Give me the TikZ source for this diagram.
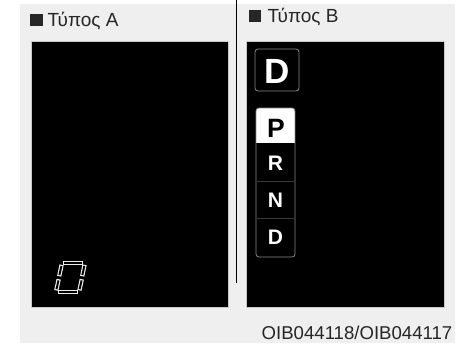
\documentclass[tikz,border=0pt]{standalone}
\usepackage{fontspec}
\setmainfont{Liberation Sans}
\definecolor{bggray}{HTML}{EFEFEF}
\definecolor{framegray}{HTML}{C8C8C8}
\definecolor{boxgray}{HTML}{8A8A8A}
\definecolor{sepgray}{HTML}{3A3A3A}
\definecolor{txtgray}{HTML}{262626}
\begin{document}
\begin{tikzpicture}[x=1pt,y=-1pt,
  title/.style={anchor=base west,inner sep=0pt,text=txtgray,font=\fontsize{19}{22}\selectfont},
  bullet/.style={fill=txtgray,draw=none,inner sep=0pt,minimum size=12.7pt,anchor=north west},
  panel/.style={fill=black,draw=framegray,line width=0.8pt},
  gearbox/.style={draw=boxgray,line width=0.8pt,rounded corners=3pt},
  gearlet/.style={anchor=base,inner sep=0pt,font=\bfseries\fontsize{21}{24}\selectfont,text=white},
  segout/.style={white!92!black,line width=4.3pt},
  segin/.style={black,line width=1.9pt}]
\useasboundingbox (0,0) rectangle (457,343);
\fill[white] (0,0) rectangle (457,343);
\fill[bggray] (20,4) rectangle (455,343);
% panels
\draw[panel] (31,41) rectangle (228,307);
\draw[panel] (246,41) rectangle (444,307);
% divider
\coordinate (divtop) at (236,0);
\coordinate (divbot) at (236,283);
\draw[black,line width=0.9pt] (divtop) -- (divbot);
% titles
\node[bullet] (bA) at (30,13.3) {};
\node[title] (tA) at (47.5,26.5) {Τύπος A};
\node[bullet] (bB) at (248.3,9.5) {};
\node[title] (tB) at (267.5,22.3) {Τύπος B};
\node[anchor=base east,inner sep=0pt,font=\fontsize{18.6}{22}\selectfont,text=txtgray] (code) at (452.5,339.5) {OIB044118/OIB044117};
% Type B: D box
\draw[gearbox] (255,49) rectangle (299,91);
\node[anchor=base,inner sep=0pt,font=\bfseries\fontsize{35}{40}\selectfont,text=white] (dbig) at (277.5,83.5) {D};
% PRND box
\begin{scope}
\clip[rounded corners=3pt] (256,108) rectangle (295,257);
\fill[white] (256,108) rectangle (295,143);
\draw[sepgray,line width=0.6pt] (257,181) -- (294,181);
\draw[sepgray,line width=0.6pt] (257,218.5) -- (294,218.5);
\end{scope}
\draw[gearbox] (256,108) rectangle (295,257);
\node[anchor=base,inner sep=0pt,font=\bfseries\fontsize{26.5}{30}\selectfont,text=black] (gP) at (276,137) {P};
\node[gearlet] (gR) at (275.5,170.5) {R};
\node[gearlet] (gN) at (275.5,207) {N};
\node[gearlet] (gD) at (275.5,244) {D};
% Type A: seven-segment D
\foreach \a/\b in {{63.3,263}/{83.3,263},{84.5,264.8}/{82.2,276.2},{81.8,279.2}/{79.4,290.4},{57.5,292}/{77.6,292},{56.3,290.4}/{58.7,279.2},{59.2,276.2}/{61.6,264.8}}{
  \draw[segout] (\a) -- (\b);
}
\foreach \a/\b in {{64.4,263}/{82.2,263},{84.3,266}/{82.4,275},{81.6,280.4}/{79.6,289.2},{58.6,292}/{76.5,292},{56.5,289.2}/{58.5,280.4},{59.4,275}/{61.4,266}}{
  \draw[segin] (\a) -- (\b);
}
\end{tikzpicture}
\end{document}
